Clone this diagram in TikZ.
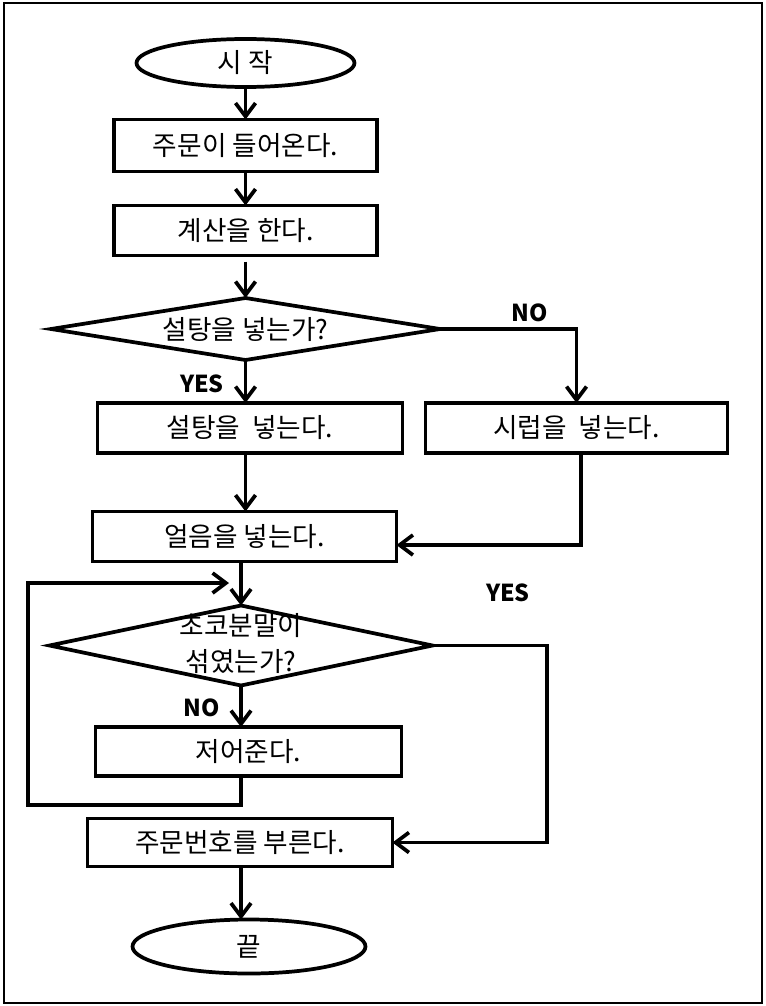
\documentclass[tikz,border=0pt]{standalone}
\usepackage{fontspec}
\setmainfont{Noto Sans CJK KR}
\usetikzlibrary{shapes.geometric,arrows.meta}
\begin{document}
\begin{tikzpicture}[x=0.75pt,y=-0.75pt,
  line width=2.8pt,
  every node/.style={font=\fontsize{20}{24}\selectfont, inner sep=0pt, outer sep=0pt},
  box/.style={draw, rectangle},
  term/.style={draw, ellipse},
  dec/.style={draw, diamond},
  lbl/.style={font=\fontsize{17.5}{20}\selectfont\bfseries},
  arr/.style={-{Straight Barb[length=10pt,width=15pt]}},
]
\useasboundingbox (0,0) rectangle (766,1006);
\draw[line width=2pt] (4,3) rectangle (762,1003);

\node[term, minimum width={218*0.75pt}, minimum height={48*0.75pt}] (start) at (245.5,63) {시 작};
\node[box, minimum width={263*0.75pt}, minimum height={52*0.75pt}] (b1) at (245.5,145.5) {주문이 들어온다.};
\node[box, minimum width={263*0.75pt}, minimum height={50*0.75pt}] (b2) at (245.5,230.5) {계산을 한다.};
\node[dec, minimum width={389*0.75pt}, minimum height={62*0.75pt}] (d1) at (245.5,329) {};
\node (d1t) at (d1) {설탕을 넣는가?};
\node[box, minimum width={305*0.75pt}, minimum height={50*0.75pt}] (b3) at (250,428) {설탕을\ \ 넣는다.};
\node[box, minimum width={302*0.75pt}, minimum height={50*0.75pt}] (b4) at (576.5,428) {시럽을\ \ 넣는다.};
\node[box, minimum width={304*0.75pt}, minimum height={50*0.75pt}] (b5) at (244.5,536.5) {얼음을 넣는다.};
\node[dec, minimum width={383*0.75pt}, minimum height={80*0.75pt}] (d2) at (241,645.5) {};
\node[align=center, font=\fontsize{20}{27.5}\selectfont] (d2t) at (241,643.5) {초코분말이\\섞였는가?};
\node[box, minimum width={306*0.75pt}, minimum height={49*0.75pt}] (b6) at (248.5,751.5) {저어준다.};
\node[box, minimum width={305*0.75pt}, minimum height={48*0.75pt}] (b7) at (240,842.5) {주문번호를 부른다.};
\node[term, minimum width={233*0.75pt}, minimum height={54*0.75pt}] (end) at (249,946.5) {끝};

\node[lbl] (no1) at (530,313) {NO};
\node[lbl] (yes1) at (202,384) {YES};
\node[lbl] (yes2) at (508,593) {YES};
\node[lbl] (no2) at (202,708) {NO};

\coordinate (j1) at (581,545);
\coordinate (r2) at (547,0);
\coordinate (lpy) at (0,805);
\coordinate (lpl) at (28,805);
\coordinate (lpt) at (28,583);
\coordinate (lpe) at (229,583);

\draw[arr] (start) -- (b1);
\draw[arr] (b1) -- (b2);
\draw[arr, shorten <=4.5pt] (b2) -- (d1);
\draw[arr] (d1.east) -| (b4.north);
\draw[arr] (d1.south) -- (d1.south |- b3.north);
\draw[arr] (d1.south |- b3.south) -- (d1.south |- b5.north);
\draw[arr] (j1 |- b4.south) -- (j1) -- (j1 -| b5.east);
\draw[arr] (d2.north |- b5.south) -- (d2.north);
\draw[arr] (d2.south) -- (d2.south |- b6.north);
\draw[arr] (d2.south |- b6.south) -- (d2.south |- lpy) -- (lpl) -- (lpt) -- (lpe);
\draw[arr] (d2.east) -- (d2.east -| r2) -- (r2 |- b7.east) -- (b7.east);
\draw[arr] (d2.south |- b7.south) -- (d2.south |- end.north);
\end{tikzpicture}
\end{document}
